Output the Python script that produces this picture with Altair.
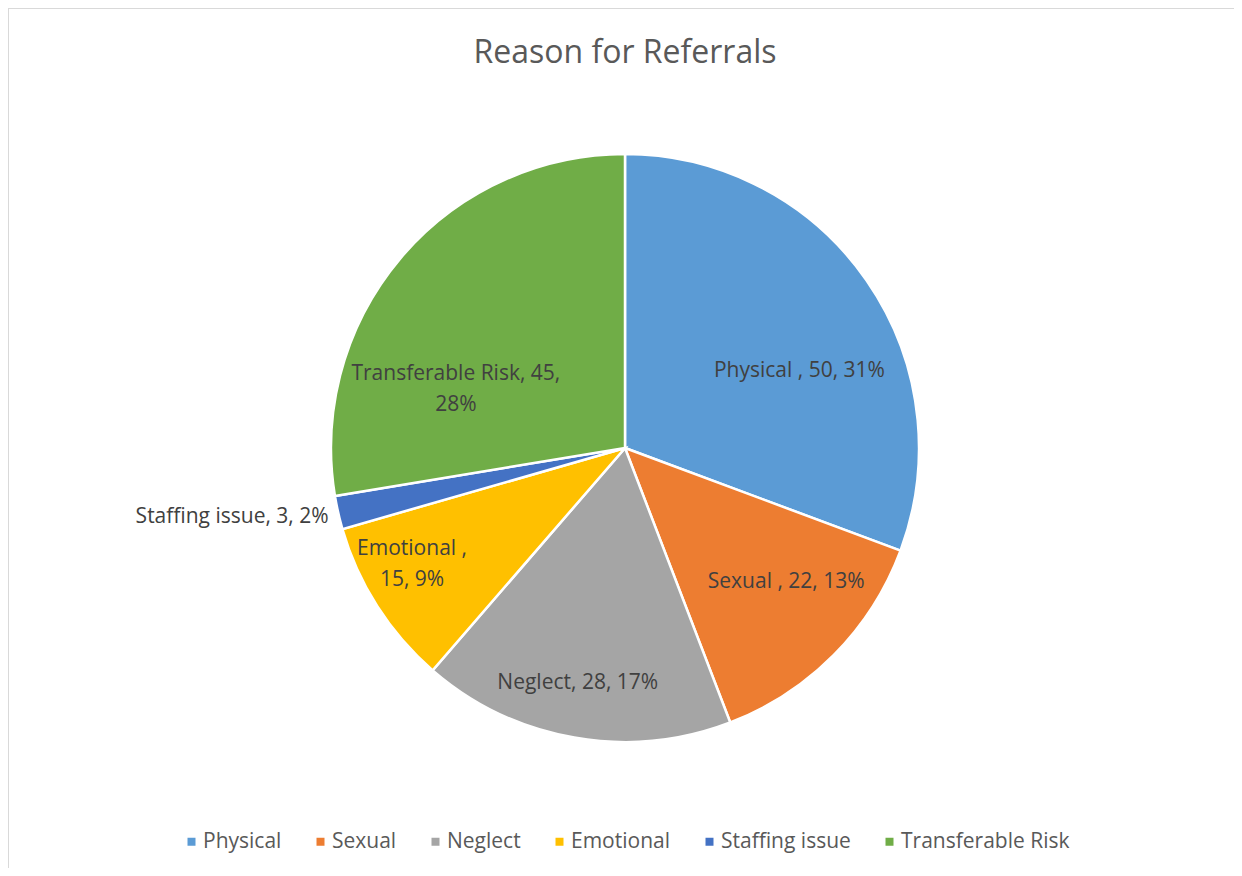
import altair as alt
import pandas as pd

TITLE = "Reason for Referrals"
categories = ["Physical ", "Sexual ", "Neglect", "Emotional ", "Staffing issue", "Transferable Risk"]
legend_names = ["Physical", "Sexual", "Neglect", "Emotional", "Staffing issue", "Transferable Risk"]
values = [50, 22, 28, 15, 3, 45]
colors = ["#5B9BD5", "#ED7D31", "#A5A5A5", "#FFC000", "#4472C4", "#70AD47"]
# comma after which the data label wraps (0 = no wrap)
wrap_after = [0, 0, 0, 1, 0, 2]

total = sum(values)
labels = []
for c, v, w in zip(categories, values, wrap_after):
    parts = [c, f" {v}", f" {round(v / total * 100)}%"]
    if w:
        parts[w] = "\n" + parts[w].strip()
    labels.append(",".join(parts))

df = pd.DataFrame({
    "idx": list(range(len(values))),
    "cat": categories,
    "name": legend_names,
    "value": values,
    "label": labels,
})

FONT = "Open Sans"
W, H = 1226, 860
CX, CY, R = 617, 440, 294

theta = alt.Theta("value:Q", stack=True)
order = alt.Order("idx:Q")

pie = alt.Chart(df).mark_arc(radius=R, stroke="white", strokeWidth=2.5).encode(
    theta=theta,
    order=order,
    x=alt.value(CX),
    y=alt.value(CY),
    color=alt.Color(
        "name:N",
        scale=alt.Scale(domain=legend_names, range=colors),
        sort=legend_names,
        legend=alt.Legend(
            title=None,
            orient="none",
            legendX=173,
            legendY=823,
            direction="horizontal",
            symbolType="square",
            symbolSize=64,
            symbolStrokeWidth=0,
            labelFont=FONT,
            labelFontSize=21,
            labelColor="#595959",
            labelOffset=1,
            labelLimit=400,
            columnPadding=28,
            padding=0,
        ),
    ),
)

# per-label placement (radius, dx, dy, align)
placement = {
    "Physical ": (210, 2, 43, "center"),
    "Sexual ": (210, 12, -14, "center"),
    "Neglect": (210, -11, 28, "center"),
    "Emotional ": (210, -36, -12, "center"),
    "Staffing issue": (310, 6, 1, "right"),
    "Transferable Risk": (210, -9, 62, "center"),
}

text_layers = []
for cat, (r, dx, dy, align) in placement.items():
    t = alt.Chart(df).transform_calculate(
        t=f"datum.cat == {cat!r} ? datum.label : ''"
    ).mark_text(
        radius=r, dx=dx, dy=dy, align=align, baseline="middle",
        lineBreak="\n", lineHeight=31,
        font=FONT, fontSize=21, color="#404040",
    ).encode(
        theta=theta,
        order=order,
        x=alt.value(CX),
        y=alt.value(CY),
        text="t:N",
    )
    text_layers.append(t)

one = pd.DataFrame({"a": [0]})
title = alt.Chart(one).mark_text(
    font=FONT, fontSize=32, color="#595959", align="center", baseline="middle"
).encode(x=alt.value(CX), y=alt.value(45), text=alt.value(TITLE))

top_border = alt.Chart(one).mark_rule(color="#d9d9d9", strokeWidth=2).encode(
    x=alt.value(0), x2=alt.value(W), y=alt.value(0)
)
left_border = alt.Chart(one).mark_rule(color="#d9d9d9", strokeWidth=2).encode(
    x=alt.value(0), y=alt.value(0), y2=alt.value(H)
)

chart = alt.layer(top_border, left_border, pie, *text_layers, title).properties(
    width=W, height=H, padding=0, autosize=alt.AutoSizeParams(type="none")
).configure_view(strokeWidth=0, strokeOpacity=0, stroke="transparent")

chart.save("out.html", embed_options={"renderer": "svg", "actions": False})
